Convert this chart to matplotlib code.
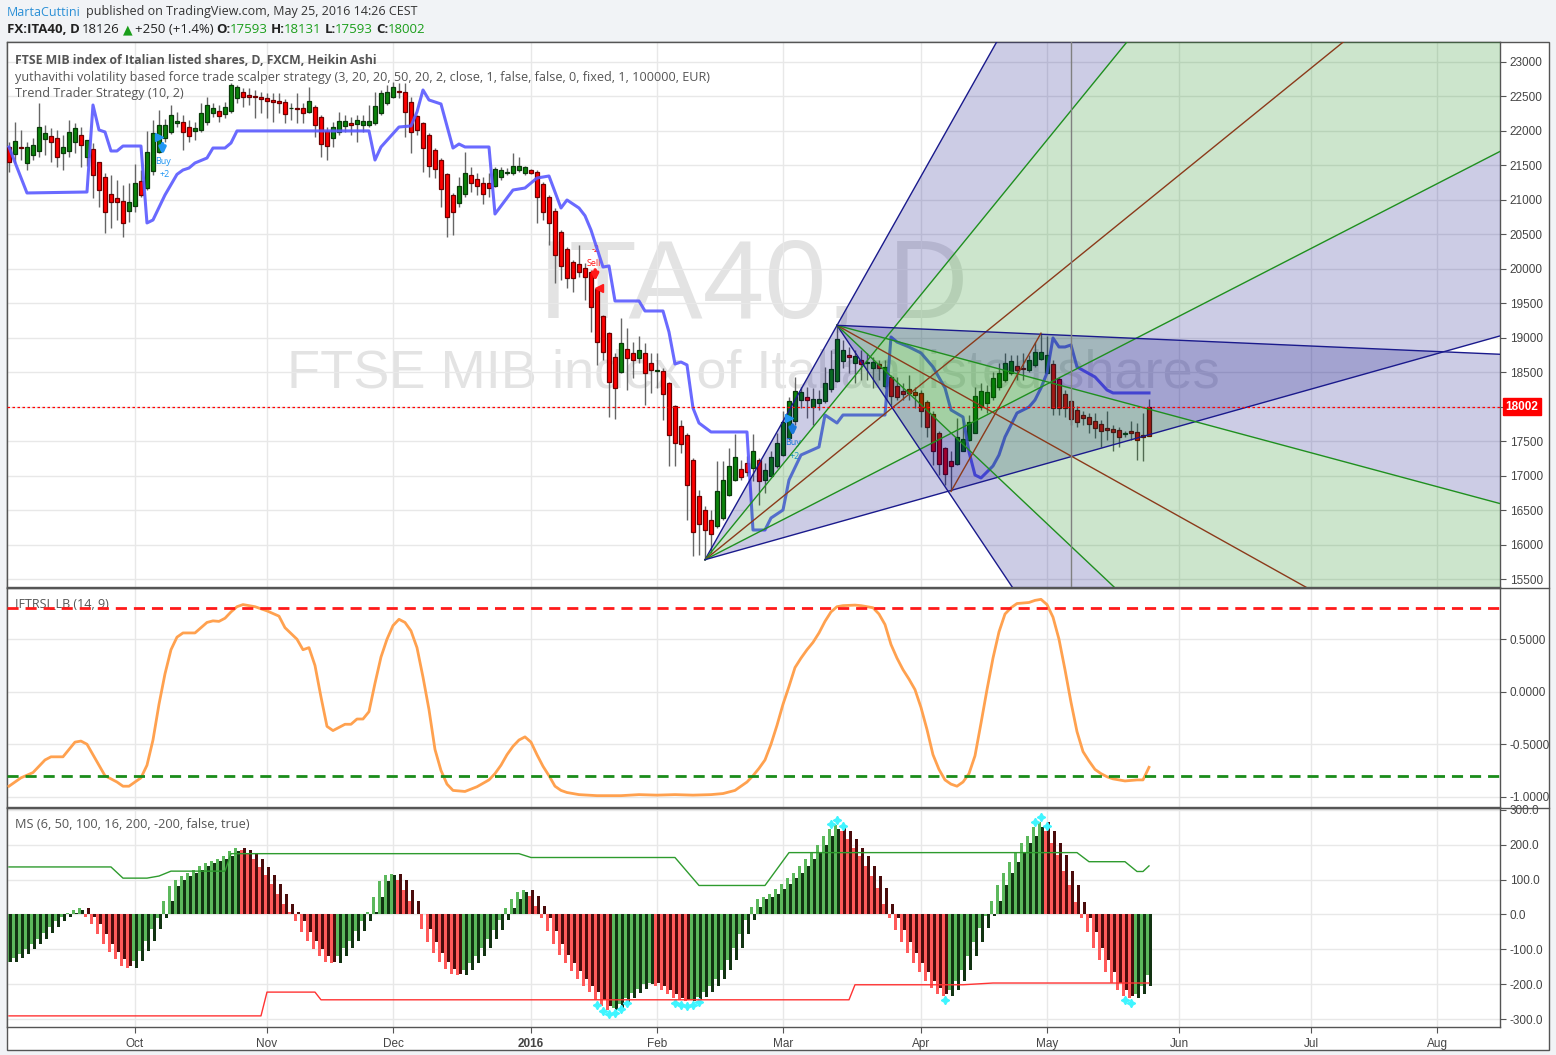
# ITA40 daily (Heikin Ashi) with Trend Trader line, Gann fans, IFTRSI and MS panels
import numpy as np
import pandas as pd
import matplotlib
matplotlib.use('Agg')
import matplotlib.pyplot as plt
from matplotlib.lines import Line2D
from matplotlib.patches import Rectangle, Polygon

plt.rcParams['font.family'] = ['Open Sans', 'DejaVu Sans']
AXFONT = ['Liberation Sans', 'DejaVu Sans']

#%% price data (Heikin Ashi bars, 2 Sep 2015 .. 25 May 2016)
ha_open = [21770, 21666, 21763, 21530, 21652, 21714, 21879, 21927, 21893, 21676,
           21714, 21845, 21942, 21618, 21734, 21545, 21328, 21086, 21023, 20989,
           20844, 20912, 21275, 21168, 21424, 21700, 21893, 21980, 22111, 22135,
           22053, 22000, 22014, 22135, 22265, 22294, 22241, 22294, 22473, 22560,
           22522, 22507, 22497, 22473, 22449, 22435, 22425, 22328, 22328, 22328,
           22280, 22352, 22207, 22004, 21893, 21980, 22077, 22111, 22096, 22087,
           22087, 22111, 22265, 22401, 22497, 22580, 22560, 22425, 22217, 22111,
           21942, 21724, 21579, 21371, 21072, 20951, 21081, 21362, 21304, 21250,
           21241, 21207, 21328, 21386, 21386, 21434, 21386, 21434, 21410, 21226,
           21038, 20844, 20530, 20293, 20095, 20066, 20008, 19950, 19704, 19322,
           19066, 18718, 18500, 18834, 18776, 18703, 18776, 18631, 18520, 18520,
           18341, 18003, 17722, 17592, 17229, 16707, 16504, 16359, 16263, 16383,
           16717, 16930, 17094, 17181, 17108, 17229, 16939, 16997, 17142, 17302,
           17543, 17799, 18099, 18138, 17993, 18051, 18085, 18254, 18379, 18665,
           18752, 18631, 18679, 18631, 18568, 18616, 18302, 18437, 18302, 18234,
           18254, 18220, 18205, 18065, 17896, 17616, 17398, 17215, 17166, 17364,
           17510, 17625, 17993, 18051, 18138, 18283, 18389, 18495, 18592, 18568,
           18534, 18607, 18694, 18495, 18621, 18399, 18186, 18075, 17954, 17882,
           17848, 17794, 17751, 17688, 17679, 17664, 17601, 17654, 17630, 17582,
           17990]
ha_close = [21545, 21855, 21748, 21763, 21797, 22053, 21975, 21845, 21627, 21763,
            21990, 22038, 21797, 21869, 21362, 21144, 20820, 20975, 20975, 20670,
            20975, 21241, 21072, 21690, 21966, 22087, 22087, 22232, 22145, 21980,
            21927, 22038, 22265, 22377, 22328, 22217, 22352, 22667, 22633, 22488,
            22497, 22488, 22459, 22435, 22415, 22410, 22246, 22338, 22314, 22256,
            22435, 22087, 21806, 21782, 22053, 22149, 22145, 22087, 22159, 22145,
            22149, 22362, 22546, 22570, 22633, 22560, 22280, 21980, 22014, 21748,
            21492, 21444, 21154, 20748, 20830, 21207, 21395, 21241, 21207, 21086,
            21168, 21444, 21434, 21400, 21497, 21492, 21473, 21386, 21047, 20830,
            20670, 20202, 20047, 19863, 19863, 19960, 19887, 19453, 18945, 18800,
            18365, 18278, 18921, 18703, 18679, 18824, 18486, 18534, 18534, 18182,
            17592, 17471, 17461, 16857, 16176, 16297, 16205, 16151, 16770, 16930,
            17142, 17268, 16978, 17046, 17360, 16915, 17084, 17268, 17471, 17775,
            18085, 18230, 18220, 18099, 18114, 18109, 18350, 18544, 18979, 18824,
            18727, 18742, 18616, 18645, 18645, 18568, 18582, 18157, 18147, 18186,
            18205, 18172, 17930, 17698, 17360, 17166, 17022, 17133, 17567, 17529,
            17775, 18157, 18230, 18210, 18413, 18486, 18640, 18665, 18534, 18544,
            18679, 18800, 18790, 18752, 17978, 17978, 17978, 17819, 17775, 17833,
            17746, 17688, 17654, 17664, 17630, 17558, 17616, 17616, 17519, 17567,
            17580]
ha_high = [21845, 22135, 22014, 21845, 21893, 22410, 22087, 22038, 22014, 21942,
           22159, 22120, 22062, 21875, 21821, 21555, 21386, 21362, 21289, 21217,
           21241, 21521, 21434, 22000, 22159, 22304, 22169, 22377, 22280, 22232,
           22159, 22135, 22401, 22497, 22401, 22377, 22425, 22691, 22667, 22618,
           22618, 22594, 22570, 22546, 22546, 22546, 22459, 22401, 22546, 22401,
           22642, 22377, 22232, 22062, 22135, 22280, 22232, 22207, 22232, 22232,
           22377, 22570, 22594, 22667, 22715, 22691, 22691, 22497, 22232, 22135,
           21966, 21748, 21603, 21386, 21096, 21337, 21700, 21482, 21395, 21337,
           21386, 21482, 21482, 21458, 21676, 21627, 21492, 21444, 21434, 21265,
           21072, 20878, 20564, 20322, 20129, 20347, 20081, 19984, 19718, 19332,
           19090, 18776, 19283, 19148, 18945, 19018, 18921, 18776, 18776, 18558,
           18365, 18027, 17809, 17616, 17253, 16794, 16552, 16504, 17215, 17205,
           17398, 17601, 17229, 17278, 17601, 17253, 17181, 17350, 17616, 17930,
           18147, 18428, 18290, 18292, 18268, 18244, 18582, 18824, 19172, 18969,
           18872, 18824, 18824, 18776, 18727, 18679, 18679, 18462, 18437, 18341,
           18462, 18292, 18244, 18099, 17930, 17640, 17422, 17350, 17833, 17809,
           17882, 18292, 18341, 18317, 18510, 18631, 18776, 18752, 18752, 18776,
           18752, 18945, 19066, 19018, 18679, 18437, 18244, 18099, 18003, 17930,
           17906, 17906, 17809, 17930, 17737, 17712, 17640, 17785, 17760, 17906,
           18110]
ha_low = [21410, 21530, 21580, 21434, 21580, 21627, 21652, 21555, 21473, 21434,
          21627, 21676, 21482, 21492, 21023, 20902, 20516, 20588, 20709, 20458,
          20685, 20830, 21047, 21144, 21362, 21676, 21845, 21956, 22062, 21724,
          21845, 21869, 21990, 22087, 22207, 22135, 22183, 22256, 22401, 22352,
          22377, 22183, 22256, 22183, 22135, 22256, 22111, 22159, 22111, 22111,
          22256, 21917, 21627, 21579, 21772, 21942, 21990, 21942, 21845, 21990,
          22062, 22087, 22232, 22377, 22473, 22473, 21908, 21685, 21942, 21410,
          21337, 21313, 20902, 20458, 20492, 20902, 21047, 21120, 21072, 20936,
          21047, 21192, 21289, 21362, 21362, 21410, 21362, 21376, 20670, 20709,
          20347, 19800, 19839, 19718, 19670, 19887, 19549, 19090, 18607, 18679,
          17848, 17819, 18486, 18244, 18413, 18631, 18027, 18196, 18268, 17809,
          17133, 17133, 17326, 16359, 15828, 15852, 15780, 15876, 16239, 16359,
          16697, 16915, 16940, 16988, 16915, 16577, 16746, 16987, 17108, 17278,
          17519, 17737, 17980, 17833, 17737, 17954, 18051, 18220, 18365, 18558,
          18486, 18341, 18389, 18389, 18268, 18389, 18268, 18027, 18099, 18099,
          18099, 17978, 17712, 17567, 17157, 17012, 16867, 16770, 17157, 17350,
          17495, 17616, 17954, 17906, 18099, 18244, 18365, 18462, 18389, 18389,
          18510, 18582, 18679, 18486, 17882, 17882, 17857, 17737, 17712, 17737,
          17616, 17543, 17422, 17519, 17350, 17422, 17567, 17519, 17229, 17205,
          17575]
last_price = 18002

# Trend Trader Strategy (10, 2) - break points (bar, price)
tt_idx = [0, 3, 13, 14, 15, 16, 17, 18, 19, 22, 23, 24, 26, 28, 29, 30, 31, 33, 34, 36,
          37, 38, 60, 61, 62, 65, 67, 68, 69, 70, 72, 74, 75, 76, 80, 81, 84, 86, 88, 90,
          92, 93, 95, 96, 97, 99, 100, 101, 105, 106, 109, 110, 111, 112, 113, 114, 115, 117, 123, 124,
          126, 127, 129, 130, 132, 135, 136, 138, 139, 146, 147, 148, 150, 152, 154, 156, 157, 159, 160, 161,
          162, 164, 165, 166, 168, 170, 171, 172, 173, 174, 175, 176, 177, 178, 181, 183, 184, 190]
tt_val = [21767, 21100, 21114, 22376, 22014, 21985, 21709, 21709, 21781, 21781,
          20665, 20708, 21071, 21370, 21433, 21462, 21535, 21607, 21752, 21752,
          21825, 22000, 22000, 21578, 21767, 22057, 22072, 22275, 22594, 22449,
          22391, 21752, 21810, 21767, 21767, 20795, 21143, 21172, 21317, 21346,
          20882, 20998, 20882, 20770, 20563, 20026, 20041, 19533, 19533, 19388,
          19388, 19083, 18619, 18648, 18605, 17981, 17763, 17633, 17633, 16211,
          16211, 16385, 16501, 16936, 17299, 17415, 17879, 17763, 17879, 17879,
          19011, 18938, 18866, 18779, 18576, 18271, 17952, 17850, 17343, 17009,
          16966, 17140, 17299, 17560, 17908, 17995, 18097, 18271, 18489, 18996,
          18866, 18866, 18895, 18576, 18431, 18242, 18199, 18199]

# strategy signals
buy_idx = [25, 130]
buy_price = [21916, 17836]
sell_idx = [98]
sell_price = [19722]

# drawings: two fans (anchor bar, anchor price, slopes in points per bar)
fan_a = (116, 15780)
fan_a_slopes = [154.5, 106.8, 70.6, 44.7, 24.5]
fan_b = (138, 19180)
fan_b_slopes = [-130.0, -82.2, -48.6, -23.4, -3.8]
fan_line_cols = ['#1a1a8c', '#1f8f1f', '#8b3a1a', '#1f8f1f', '#1a1a8c']
fan_band_cols = ['#000080', '#008000', '#008000', '#000080']
trend_seg = ([157, 172], [16770, 19066])
vline_idx = 177

#%% IFTRSI_LB (14, 9)
rsi_idx = [0, 2, 4, 6, 7, 9, 11, 12, 13, 14, 16, 18, 19, 20, 22, 23, 24, 25, 26, 27,
           28, 29, 31, 33, 34, 35, 36, 37, 38, 39, 41, 43, 45, 46, 48, 49, 50, 51, 52, 53,
           54, 56, 57, 58, 59, 60, 61, 62, 63, 64, 65, 66, 67, 68, 69, 70, 71, 72, 73, 74,
           76, 78, 80, 81, 82, 83, 84, 85, 86, 87, 88, 89, 90, 91, 92, 93, 95, 98, 102, 105,
           108, 111, 114, 117, 119, 121, 122, 123, 124, 125, 126, 127, 128, 129, 130, 131, 132, 133, 134, 135,
           136, 137, 138, 139, 141, 142, 144, 145, 146, 147, 148, 149, 150, 151, 152, 153, 154, 155, 156, 157,
           158, 159, 160, 161, 162, 163, 164, 165, 166, 167, 168, 170, 171, 172, 173, 174, 175, 176, 177, 178,
           179, 180, 181, 182, 183, 184, 186, 188, 189, 190]
rsi_val = [-0.90, -0.82, -0.77, -0.65, -0.62, -0.62, -0.48, -0.47, -0.50, -0.60,
           -0.80, -0.86, -0.90, -0.90, -0.82, -0.70, -0.46, -0.12, 0.17, 0.40,
           0.52, 0.56, 0.56, 0.66, 0.675, 0.67, 0.70, 0.76, 0.81, 0.83,
           0.81, 0.77, 0.72, 0.61, 0.50, 0.40, 0.42, 0.25, -0.05, -0.33,
           -0.37, -0.31, -0.31, -0.26, -0.26, -0.19, 0.08, 0.33, 0.50, 0.63,
           0.69, 0.66, 0.58, 0.42, 0.14, -0.17, -0.55, -0.75, -0.88, -0.94,
           -0.95, -0.905, -0.84, -0.78, -0.70, -0.60, -0.52, -0.46, -0.43, -0.48,
           -0.60, -0.71, -0.80, -0.90, -0.94, -0.96, -0.98, -0.99, -0.99, -0.98,
           -0.985, -0.98, -0.985, -0.98, -0.97, -0.94, -0.90, -0.86, -0.80, -0.73,
           -0.65, -0.50, -0.32, -0.12, 0.05, 0.23, 0.32, 0.40, 0.47, 0.56,
           0.67, 0.76, 0.81, 0.82, 0.825, 0.82, 0.80, 0.74, 0.64, 0.45,
           0.32, 0.21, 0.12, 0.02, -0.15, -0.36, -0.60, -0.74, -0.84, -0.88,
           -0.90, -0.86, -0.78, -0.61, -0.30, 0.02, 0.32, 0.57, 0.74, 0.80,
           0.84, 0.85, 0.87, 0.88, 0.83, 0.71, 0.50, 0.21, -0.10, -0.38,
           -0.57, -0.66, -0.74, -0.78, -0.81, -0.83, -0.85, -0.84, -0.84, -0.72]
rsi_upper = 0.8
rsi_lower = -0.8

#%% MS (6, 50, 100, 16, 200, -200, false, true)
ms_val = [-135, -125, -112, -98, -84, -70, -52, -36, -20, -8,
          4, 14, 18, -8, -28, -55, -83, -108, -128, -146,
          -152, -132, -105, -75, -42, -10, 38, 82, 100, 110,
          118, 126, 138, 148, 154, 160, 168, 182, 190, 185,
          172, 158, 135, 112, 88, 60, 30, 8, -20, -50,
          -75, -98, -118, -135, -138, -120, -95, -75, -48, -20,
          8, 50, 95, 112, 116, 98, 70, 38, 0, -42,
          -80, -110, -135, -155, -170, -174, -160, -140, -118, -95,
          -70, -45, -15, 20, 45, 65, 70, 52, 25, -10,
          -48, -85, -115, -140, -162, -185, -205, -222, -245, -262,
          -272, -268, -255, -240, -225, -212, -200, -196, -205, -215,
          -228, -240, -246, -248, -245, -235, -222, -205, -185, -160,
          -130, -95, -55, -15, 22, 45, 50, 58, 72, 88,
          105, 118, 140, 160, 180, 200, 225, 245, 256, 240,
          215, 190, 168, 140, 110, 75, 30, -10, -45, -80,
          -110, -140, -165, -190, -210, -228, -232, -215, -190, -160,
          -120, -80, -40, -5, 40, 85, 120, 150, 180, 205,
          225, 250, 265, 240, 205, 170, 125, 85, 35, -10,
          -50, -95, -130, -165, -195, -215, -232, -238, -228, -205,
          -172]
ms_up_idx = [0, 17, 19, 23, 25, 27, 36, 37, 85, 87, 111, 115, 126, 130, 178, 180, 186, 188, 189, 190]
ms_up_val = [136, 136, 104, 104, 110, 124, 124, 174, 174, 163, 163, 83, 83, 177, 177, 151, 151, 123, 123, 139]
ms_dn_idx = [0, 42, 43, 51, 52, 140, 141, 159, 164, 190]
ms_dn_val = [-290, -290, -222, -222, -244, -244, -201, -201, -196, -196]

#%% figure
W, H = 1556, 1055
fig = plt.figure(figsize=(W / 100, H / 100), dpi=100, facecolor='#f1f3f6')

def fx(px):
    return px / W

def fy(py):
    return 1 - py / H

# white chart frame behind the panels
frame = Rectangle((fx(7), fy(1050)), fx(1549) - fx(7), fy(42) - fy(1050),
                  transform=fig.transFigure, facecolor='white',
                  edgecolor='#555555', lw=1, zorder=-5)
fig.patches.append(frame)

L, R = 7, 1500
ax1 = fig.add_axes([fx(L), fy(587), fx(R) - fx(L), fy(42) - fy(587)])
ax2 = fig.add_axes([fx(L), fy(807), fx(R) - fx(L), fy(588) - fy(807)])
ax3 = fig.add_axes([fx(L), fy(1027), fx(R) - fx(L), fy(808) - fy(1027)])

n = len(ha_close)
x = np.arange(n)
dates = pd.bdate_range('2015-09-02', periods=250)
month_idx = [k for k in range(1, len(dates)) if dates[k].month != dates[k - 1].month]
month_lbl = ['2016' if dates[k].month == 1 else dates[k].strftime('%b') for k in month_idx]

for ax in (ax1, ax2, ax3):
    ax.set_facecolor('white')
    ax.set_xlim(-0.33, 248.5)
    ax.yaxis.tick_right()
    ax.tick_params(axis='y', direction='out', length=4, pad=3, colors='#555555',
                   labelsize=8.5, labelcolor='#444444')
    ax.set_xticks(month_idx)
    ax.tick_params(axis='x', direction='out', length=4, colors='#555555', labelbottom=False)
    ax.grid(True, color='#e8e8e8', lw=1, zorder=0)
    ax.set_axisbelow(True)
    for s in ax.spines.values():
        s.set_color('#555555')
        s.set_linewidth(1)

#%% price panel
ax1.set_ylim(15384, 23290)
price_ticks = list(range(15500, 23001, 500))
ax1.set_yticks(price_ticks)
# the 18000 label is hidden behind the last-price tag
ax1.set_yticklabels(['' if v == 18000 else str(v) for v in price_ticks], fontfamily=AXFONT)

ax1.text(0.5, 0.548, 'ITA40, D', transform=ax1.transAxes, fontsize=80,
         color='#e3e3e3', ha='center', va='center', zorder=0.5, fontfamily=AXFONT)
ax1.text(0.5, 0.392, 'FTSE MIB index of Italian listed shares', transform=ax1.transAxes,
         fontsize=39, color='#e3e3e3', ha='center', va='center', zorder=0.5, fontfamily=AXFONT)

op = np.array(ha_open)
cl = np.array(ha_close)
up = cl >= op
body_col = np.where(up, '#0b840b', '#ff0000')
edge_col = np.where(up, '#0a3a0a', '#6e0000')
ax1.vlines(x, ha_low, ha_high, color='#666666', lw=1, zorder=2)
ax1.bar(x, cl - op, bottom=op, width=0.72, color=body_col, edgecolor=edge_col,
        lw=0.9, zorder=3)

ax1.plot(tt_idx, tt_val, color='#5a5aff', lw=2.2, alpha=0.9, zorder=4)

def draw_fan(ax, anchor, slopes):
    i0, p0 = anchor
    far = 500
    ends = [(i0 + far, p0 + s * far) for s in slopes]
    for k in range(len(slopes) - 1):
        ax.add_patch(Polygon([(i0, p0), ends[k], ends[k + 1]], closed=True,
                             facecolor=fan_band_cols[k], alpha=0.2, edgecolor='none', zorder=5))
    for e, c in zip(ends, fan_line_cols):
        ax.plot([i0, e[0]], [p0, e[1]], color=c, lw=1, zorder=6)

draw_fan(ax1, fan_a, fan_a_slopes)
draw_fan(ax1, fan_b, fan_b_slopes)
ax1.plot(trend_seg[0], trend_seg[1], color='#8b3a1a', lw=1, zorder=6)
ax1.axvline(vline_idx, color='#808080', lw=1, zorder=6)

ax1.axhline(last_price, color='#ff0000', lw=0.9, ls=(0, (2, 2)), zorder=7)
ax1.annotate(str(last_price), xy=(1, last_price), xycoords=('axes fraction', 'data'),
             xytext=(4, 0), textcoords='offset points', ha='left', va='center',
             fontsize=8.5, fontweight='bold', color='white', fontfamily=AXFONT,
             bbox=dict(boxstyle='square,pad=0.25', fc='#ff0000', ec='#ff0000'),
             annotation_clip=False, zorder=10)

buy_c, sell_c = '#2196f3', '#ff1a1a'
for bi, bp in zip(buy_idx, buy_price):
    ax1.plot(bi, bp, marker='>', color=buy_c, ms=6, zorder=8)
    ax1.annotate('', xy=(bi + 0.6, bp), xycoords='data',
                 xytext=(0, -13), textcoords='offset points',
                 arrowprops=dict(arrowstyle='<|-', color=buy_c, lw=2.5, mutation_scale=9,
                                 shrinkA=0, shrinkB=5))
    ax1.annotate('Buy', xy=(bi + 0.6, bp), xycoords='data', xytext=(0, -18),
                 textcoords='offset points', ha='center', va='center', color=buy_c, fontsize=6.5)
    ax1.annotate('+2', xy=(bi + 0.9, bp), xycoords='data', xytext=(0, -27.5),
                 textcoords='offset points', ha='center', va='center', color=buy_c, fontsize=6.5)
for si, sp in zip(sell_idx, sell_price):
    ax1.plot(si + 0.4, sp, marker='<', color=sell_c, ms=6, zorder=8)
    ax1.annotate('', xy=(si - 0.3, sp), xycoords='data', xytext=(0, 13),
                 textcoords='offset points',
                 arrowprops=dict(arrowstyle='-|>', color=sell_c, lw=2.5, mutation_scale=9,
                                 shrinkA=0, shrinkB=5))
    ax1.annotate('Sell', xy=(si - 0.6, sp), xycoords='data', xytext=(0, 17.5),
                 textcoords='offset points', ha='center', va='center', color=sell_c, fontsize=6.5)
    ax1.annotate('-2', xy=(si - 0.3, sp), xycoords='data', xytext=(0, 27.5),
                 textcoords='offset points', ha='center', va='center', color=sell_c, fontsize=6.5)

ax1.text(8 / 1493, 1 - 18 / 545, 'FTSE MIB index of Italian listed shares, D, FXCM, Heikin Ashi',
         transform=ax1.transAxes, fontsize=8.8, fontweight='bold', color='#555555', va='center', zorder=11)
ax1.text(8 / 1493, 1 - 35 / 545,
         'yuthavithi volatility based force trade scalper strategy (3, 20, 20, 50, 20, 2, close, 1, false, false, 0, fixed, 1, 100000, EUR)',
         transform=ax1.transAxes, fontsize=9.1, color='#555555', va='center', zorder=11)
ax1.text(8 / 1493, 1 - 52 / 545, 'Trend Trader Strategy (10, 2)', transform=ax1.transAxes,
         fontsize=9.1, color='#555555', va='center', zorder=11)

#%% IFTRSI panel
ax2.set_ylim(-1.098, 0.988)
ax2.set_yticks([0.5, 0, -0.5, -1])
ax2.set_yticklabels(['0.5000', '0.0000', '-0.5000', '-1.0000'], fontfamily=AXFONT)
ax2.plot(rsi_idx, rsi_val, color='#ffa14f', lw=2, zorder=3)
ax2.axhline(rsi_upper, color='#ff1a1a', lw=2, ls=(0, (4, 2.5)), zorder=4)
ax2.axhline(rsi_lower, color='#1a8c1a', lw=2, ls=(0, (4, 2.5)), zorder=4)
ax2.text(8 / 1493, 1 - 17 / 219, 'IFTRSI_LB (14, 9)', transform=ax2.transAxes,
         fontsize=9, color='#555555', va='center', zorder=2)

#%% MS panel
ax3.set_ylim(-321.8, 304.6)
ax3.set_yticks([300, 200, 100, 0, -100, -200, -300])
ax3.set_yticklabels(['300.0', '200.0', '100.0', '0.0', '-100.0', '-200.0', '-300.0'],
                    fontfamily=AXFONT)
ms = np.array(ms_val, dtype=float)
ms_prev = np.concatenate([[ms[0]], ms[:-1]])   # previous bar value
rising = ms >= ms_prev
light_col = np.where(rising, '#5cb85c', '#ff5a5a')
dark_col = np.where(rising, '#123312', '#4a0c0c')
ax3.bar(x - 0.22, ms, width=0.5, color=light_col, zorder=2)
ax3.bar(x + 0.25, ms_prev, width=0.5, color=dark_col, zorder=2)
ext = np.abs(ms) >= 230
ax3.plot(x[ext], ms[ext] + np.sign(ms[ext]) * 14, ls='none', marker=(4, 1, 0), ms=6,
         color='#3ff5ff', zorder=3)
ax3.plot(ms_up_idx, ms_up_val, color='#2e9b2e', lw=1, zorder=4)
ax3.plot(ms_dn_idx, ms_dn_val, color='#ff3333', lw=1, zorder=4)
ax3.text(8 / 1493, 1 - 17 / 219, 'MS (6, 50, 100, 16, 200, -200, false, true)',
         transform=ax3.transAxes, fontsize=9.2, color='#555555', va='center', zorder=5)

ax3.tick_params(axis='x', labelbottom=True, labelsize=8.5, labelcolor='#444444', pad=4)
ax3.set_xticklabels(month_lbl, fontfamily=AXFONT)
for t in ax3.get_xticklabels():
    if t.get_text() == '2016':
        t.set_fontweight('bold')

# panel separators across the price scale
for yy in (588, 808):
    fig.lines.append(Line2D([fx(7), fx(1549)], [fy(yy), fy(yy)], transform=fig.transFigure,
                            color='#555555', lw=1))

#%% header
fig.text(fx(7), fy(12), 'MartaCuttini', color='#2a8fd6', fontsize=9, va='center')
fig.text(fx(86), fy(12), 'published on TradingView.com, May 25, 2016 14:26 CEST',
         color='#333333', fontsize=9, va='center')
hdr = [(7, 'FX:ITA40, D', '#222222', 'bold'), (82, '18126', '#222222', 'normal'),
       (135, '+250 (+1.4%)', '#222222', 'normal'), (216, 'O:', '#222222', 'bold'),
       (230, '17593', '#1a9e1a', 'normal'), (271, 'H:', '#222222', 'bold'),
       (284, '18131', '#1a9e1a', 'normal'), (325, 'L:', '#222222', 'bold'),
       (335, '17593', '#1a9e1a', 'normal'), (376, 'C:', '#222222', 'bold'),
       (388, '18002', '#1a9e1a', 'normal')]
for px, s, c, w in hdr:
    fig.text(fx(px), fy(29.5), s, color=c, fontweight=w, fontsize=9.5, va='center')
fig.text(fx(127.5), fy(30), '\u25b2', color='#1a9e1a', fontsize=9, va='center', ha='center',
         fontfamily='DejaVu Sans')

plt.savefig('out.png', dpi=100, facecolor=fig.get_facecolor())
